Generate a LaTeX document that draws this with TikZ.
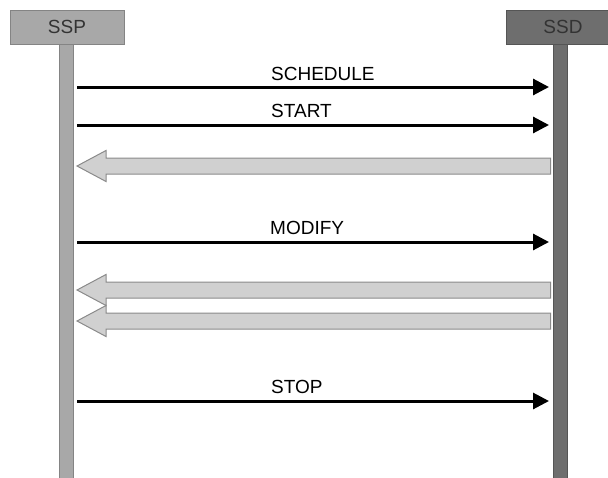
\documentclass[tikz,border=0pt]{standalone}
\usepackage{fontspec}
\setmainfont{Liberation Sans}
\usetikzlibrary{arrows.meta}
\definecolor{lightg}{HTML}{A8A8A8}
\definecolor{lightgb}{HTML}{848484}
\definecolor{darkg}{HTML}{6E6E6E}
\definecolor{darkgb}{HTML}{555555}
\definecolor{blockg}{HTML}{D0D0D0}
\definecolor{blockgb}{HTML}{8A8A8A}
\tikzset{
  x=1pt,y=-1pt,
  hdr/.style={rectangle, draw, line width=1pt, minimum width=114pt, minimum height=34pt, inner sep=0pt,
    font=\fontsize{19}{22}\selectfont, text=black!80},
  life/.style={rectangle, draw, line width=1pt, minimum width=14pt, inner sep=0pt},
  msg/.style={line width=3pt, -{Triangle[length=16pt,width=16pt]}},
  lbl/.style={anchor=base west, inner sep=0pt, font=\fontsize{19}{22}\selectfont},
  blk/.style={fill=blockg, draw=blockgb, line width=1pt, line join=miter},
}
\begin{document}
\begin{tikzpicture}
\useasboundingbox (0,0) rectangle (608,477);
\begin{scope}
\clip (0,0) rectangle (608,477);
% lifelines
\node[life, fill=lightg, draw=lightgb, minimum height=434pt] (sspl) at (66,261) {};
\node[life, fill=darkg, draw=darkgb, minimum height=434pt] (ssdl) at (560.5,261) {};
% headers
\node[hdr, fill=lightg, draw=lightgb] (ssp) at (67,27) {SSP};
\node[hdr, fill=darkg, draw=darkgb] (ssd) at (563,27) {SSD};
\end{scope}
% message coordinates
\foreach \n/\y in {a/87,b/125,c/242,d/401}{
  \coordinate (s\n) at (77,\y);
  \coordinate (e\n) at (549,\y);
}
\draw[msg] (sa) -- (ea);
\draw[msg] (sb) -- (eb);
\draw[msg] (sc) -- (ec);
\draw[msg] (sd) -- (ed);
\node[lbl] (l1) at (271,80) {SCHEDULE};
\node[lbl] (l2) at (271,117) {START};
\node[lbl] (l3) at (270,234) {MODIFY};
\node[lbl] (l4) at (271,393) {STOP};
% block reply arrows
\foreach \y in {166, 290, 321}{
  \draw[blk] (77,\y) -- (106,\y-15.5) -- (106,\y-8) -- (550.5,\y-8) -- (550.5,\y+8) -- (106,\y+8) -- (106,\y+15.5) -- cycle;
}
\end{tikzpicture}
\end{document}
